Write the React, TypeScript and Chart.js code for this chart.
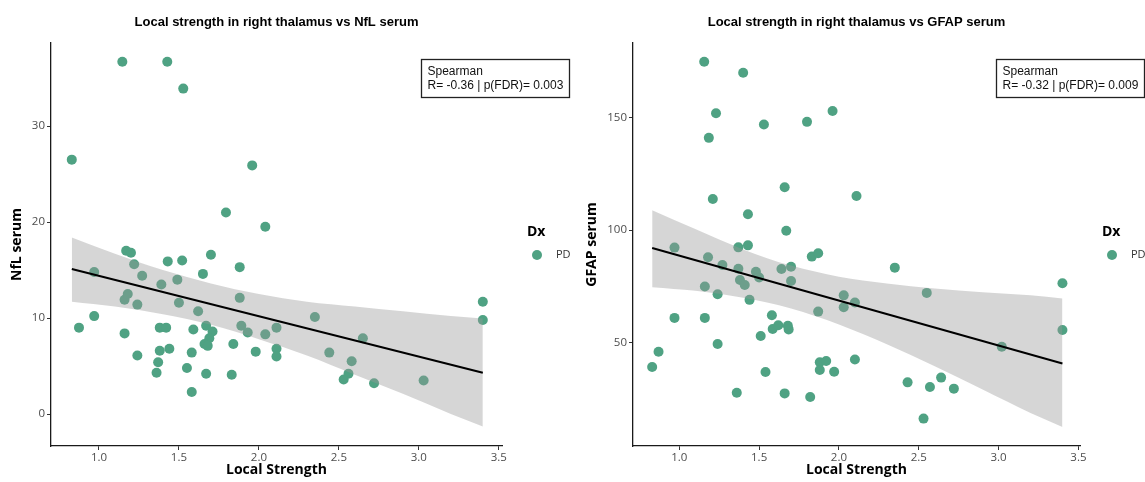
import React, { useEffect, useRef } from 'react';
import { Chart, registerables } from 'chart.js';
Chart.register(...registerables);

// ---------- Data: Local strength vs NfL serum ----------
const nflX = [1.146, 1.427, 1.527, 0.83, 1.958, 1.794, 2.04, 0.875, 0.97, 0.97, 1.16, 1.16, 1.18, 1.17, 1.2, 1.22, 1.24, 1.27, 1.24, 1.36, 1.37, 1.38, 1.38, 1.42, 1.44, 1.39, 1.43, 1.49, 1.52, 1.5, 1.55, 1.58, 1.58, 1.59, 1.62, 1.65, 1.7, 1.67, 1.71, 1.69, 1.66, 1.68, 1.67, 1.83, 1.84, 1.88, 1.88, 1.89, 1.93, 1.98, 2.04, 2.11, 2.11, 2.11, 2.35, 2.44, 2.58, 2.56, 2.53, 2.65, 2.72, 3.03, 3.4, 3.4];
const nflY = [36.7, 36.7, 33.9, 26.5, 25.9, 21.0, 19.5, 9.0, 14.8, 10.2, 8.4, 11.9, 12.5, 17.0, 16.8, 15.6, 11.4, 14.4, 6.1, 4.3, 5.4, 6.6, 9.0, 9.0, 6.8, 13.5, 15.9, 14.0, 16.0, 11.6, 4.8, 2.3, 6.4, 8.8, 10.7, 14.6, 16.6, 9.2, 8.6, 7.9, 7.3, 7.1, 4.2, 4.1, 7.3, 15.3, 12.1, 9.2, 8.5, 6.5, 8.3, 9.0, 6.8, 6.0, 10.1, 6.4, 5.5, 4.2, 3.6, 7.9, 3.2, 3.5, 11.7, 9.8];
const nflBandX = [0.83, 1.1, 1.4, 1.7, 2.0, 2.3, 2.6, 2.9, 3.2, 3.4];
const nflBandLo = [11.7, 11.2, 10.4, 9.3, 7.8, 6.1, 4.1, 2.1, 0.0, -1.3];
const nflBandHi = [18.4, 16.7, 15.0, 13.6, 12.5, 11.7, 11.2, 10.7, 10.2, 9.95];
const nflFitX = [0.83, 3.4];
const nflFitY = [15.1, 4.3];
const nflYTicks = [0, 10, 20, 30];

// ---------- Data: Local strength vs GFAP serum ----------
const gfapX = [1.156, 1.4, 1.23, 1.185, 1.53, 1.8, 1.96, 1.21, 1.66, 1.43, 2.11, 0.83, 0.87, 0.97, 0.97, 1.16, 1.18, 1.16, 1.24, 1.24, 1.27, 1.37, 1.37, 1.43, 1.38, 1.41, 1.44, 1.48, 1.5, 1.51, 1.54, 1.36, 1.58, 1.585, 1.62, 1.64, 1.67, 1.68, 1.685, 1.7, 1.7, 1.66, 1.82, 1.83, 1.87, 1.87, 1.88, 1.92, 1.88, 1.97, 2.03, 2.03, 2.1, 2.1, 2.35, 2.43, 2.55, 2.57, 2.64, 2.72, 2.53, 3.02, 3.4, 3.4];
const gfapY = [174.7, 169.8, 151.8, 140.9, 146.8, 148.0, 152.8, 113.8, 119.0, 107.0, 115.1, 39.2, 46.0, 92.2, 61.0, 74.9, 87.9, 61.0, 71.5, 49.4, 84.5, 82.8, 92.3, 93.2, 77.8, 75.6, 69.0, 81.5, 78.9, 53.0, 37.0, 27.8, 62.2, 56.1, 57.7, 82.7, 99.7, 57.5, 55.9, 83.7, 77.4, 27.5, 25.9, 88.2, 89.7, 63.8, 41.3, 41.9, 37.9, 37.1, 71.0, 65.7, 67.8, 42.5, 83.3, 32.4, 72.1, 30.3, 34.5, 29.6, 16.3, 48.2, 76.4, 55.6];
const gfapBandX = [0.83, 1.1, 1.4, 1.7, 2.0, 2.3, 2.6, 2.9, 3.2, 3.4];
const gfapBandLo = [74.6, 73.0, 69.9, 65.2, 58.1, 49.3, 39.5, 29.2, 18.8, 12.6];
const gfapBandHi = [108.8, 100.4, 91.4, 84.2, 79.3, 76.3, 74.1, 72.4, 71.0, 69.6];
const gfapFitX = [0.83, 3.4];
const gfapFitY = [92.0, 40.8];
const gfapYTicks = [50, 100, 150];

const xTicks = [1.0, 1.5, 2.0, 2.5, 3.0, 3.5];

const GREEN = '#4FA283';
const BAND = 'rgba(153,153,153,0.4)';
const SANS = '"Open Sans", "Liberation Sans", Arial, sans-serif';
const HELV = '"Liberation Sans", Arial, Helvetica, sans-serif';

type PanelSpec = {
  width: number;
  areaLeft: number;
  areaRight: number;
  xMin: number;
  xMax: number;
  yMin: number;
  yMax: number;
  xs: number[];
  ys: number[];
  bandX: number[];
  bandLo: number[];
  bandHi: number[];
  fitX: number[];
  fitY: number[];
  yTicks: number[];
  title: string;
  yTitle: string;
  stat: string;
};

const pts = (xs: number[], ys: number[]) => xs.map((x, i) => ({ x, y: ys[i] }));

function makeOverlay(spec: PanelSpec) {
  return {
    id: 'overlay',
    afterDraw(chart: any) {
      const ctx = chart.ctx as CanvasRenderingContext2D;
      const a = chart.chartArea;
      ctx.save();
      // Title
      ctx.fillStyle = '#000';
      ctx.font = `bold 13px ${HELV}`;
      ctx.textAlign = 'center';
      ctx.textBaseline = 'middle';
      ctx.fillText(spec.title, (a.left + a.right) / 2, 22);
      // Stat box
      const bx = 421.5, by = 59.5, bw = 148, bh = 38;
      ctx.fillStyle = '#fff';
      ctx.fillRect(bx, by, bw, bh);
      ctx.strokeStyle = '#222';
      ctx.lineWidth = 1.3;
      ctx.strokeRect(bx, by, bw, bh);
      ctx.fillStyle = '#111';
      ctx.font = `12px ${HELV}`;
      ctx.textAlign = 'left';
      ctx.fillText('Spearman', bx + 6, by + 12.5);
      ctx.fillText(spec.stat, bx + 6, by + 26.5);
      // Legend
      ctx.fillStyle = '#000';
      ctx.font = `bold 14px ${SANS}`;
      ctx.fillText('Dx', 527, 232);
      ctx.fillStyle = GREEN;
      ctx.beginPath();
      ctx.arc(537, 255, 5, 0, Math.PI * 2);
      ctx.fill();
      ctx.fillStyle = '#333';
      ctx.font = `11px ${SANS}`;
      ctx.fillText('PD', 556, 255);
      ctx.restore();
    },
  };
}

function makeConfig(spec: PanelSpec): any {
  return {
    type: 'scatter',
    data: {
      datasets: [
        {
          label: 'PD',
          data: pts(spec.xs, spec.ys),
          backgroundColor: GREEN,
          borderWidth: 0,
          pointRadius: 5,
          order: 3,
        },
        {
          label: 'lower',
          data: pts(spec.bandX, spec.bandLo),
          showLine: true,
          pointRadius: 0,
          borderWidth: 0,
          borderColor: 'rgba(0,0,0,0)',
          fill: false,
          cubicInterpolationMode: 'monotone',
          order: 2,
        },
        {
          label: 'upper',
          data: pts(spec.bandX, spec.bandHi),
          showLine: true,
          pointRadius: 0,
          borderWidth: 0,
          borderColor: 'rgba(0,0,0,0)',
          backgroundColor: BAND,
          fill: '-1',
          cubicInterpolationMode: 'monotone',
          order: 1,
        },
        {
          label: 'fit',
          data: pts(spec.fitX, spec.fitY),
          showLine: true,
          pointRadius: 0,
          borderColor: '#000',
          borderWidth: 2,
          fill: false,
          order: 0,
        },
      ],
    },
    options: {
      responsive: false,
      animation: false,
      events: [],
      layout: {
        padding: { left: 0, right: spec.width - spec.areaRight, top: 43, bottom: 0 },
      },
      plugins: {
        legend: { display: false },
        tooltip: { enabled: false },
        title: { display: false },
      },
      scales: {
        x: {
          type: 'linear',
          position: 'bottom',
          min: spec.xMin,
          max: spec.xMax,
          afterBuildTicks: (s: any) => {
            s.ticks = xTicks.map((v) => ({ value: v }));
          },
          afterFit: (s: any) => {
            s.height = 36;
          },
          ticks: {
            callback: (v: any) => Number(v).toFixed(1),
            color: '#4d4d4d',
            font: { size: 11.5, family: SANS },
            padding: 1,
            maxRotation: 0,
            autoSkip: false,
          },
          grid: { drawOnChartArea: false, drawTicks: true, tickLength: 4, color: '#333', lineWidth: 1 },
          border: { display: true, color: '#1a1a1a', width: 1.3 },
          title: {
            display: true,
            text: 'Local Strength',
            color: '#000',
            font: { size: 14, weight: 'bold', family: SANS },
            padding: { top: 0, bottom: 3.6 },
          },
        },
        y: {
          type: 'linear',
          position: 'left',
          min: spec.yMin,
          max: spec.yMax,
          afterBuildTicks: (s: any) => {
            s.ticks = spec.yTicks.map((v) => ({ value: v }));
          },
          afterFit: (s: any) => {
            s.width = spec.areaLeft;
          },
          ticks: {
            color: '#4d4d4d',
            font: { size: 11.5, family: SANS },
            padding: 2,
          },
          grid: { drawOnChartArea: false, drawTicks: true, tickLength: 4, color: '#333', lineWidth: 1 },
          border: { display: true, color: '#1a1a1a', width: 1.3 },
          title: {
            display: true,
            text: spec.yTitle,
            color: '#000',
            font: { size: 14, weight: 'bold', family: SANS },
            padding: { top: 8.6, bottom: 0 },
          },
        },
      },
    },
    plugins: [makeOverlay(spec)],
  };
}

function Panel({ spec }: { spec: PanelSpec }) {
  const ref = useRef<HTMLCanvasElement | null>(null);
  useEffect(() => {
    if (!ref.current) return;
    const chart = new Chart(ref.current, makeConfig(spec));
    return () => chart.destroy();
  }, [spec]);
  return <canvas ref={ref} width={spec.width} height={482} style={{ display: 'block', width: spec.width, height: 482 }} />;
}

const leftSpec: PanelSpec = {
  width: 575,
  areaLeft: 51,
  areaRight: 502,
  xMin: 0.7,
  xMax: 3.52,
  yMin: -3.33,
  yMax: 38.65,
  xs: nflX,
  ys: nflY,
  bandX: nflBandX,
  bandLo: nflBandLo,
  bandHi: nflBandHi,
  fitX: nflFitX,
  fitY: nflFitY,
  yTicks: nflYTicks,
  title: 'Local strength in right thalamus vs NfL serum',
  yTitle: 'NfL serum',
  stat: 'R= -0.36 | p(FDR)= 0.003',
};

const rightSpec: PanelSpec = {
  width: 570,
  areaLeft: 58,
  areaRight: 505,
  xMin: 0.71,
  xMax: 3.51,
  yMin: 4.15,
  yMax: 183.0,
  xs: gfapX,
  ys: gfapY,
  bandX: gfapBandX,
  bandLo: gfapBandLo,
  bandHi: gfapBandHi,
  fitX: gfapFitX,
  fitY: gfapFitY,
  yTicks: gfapYTicks,
  title: 'Local strength in right thalamus vs GFAP serum',
  yTitle: 'GFAP serum',
  stat: 'R= -0.32 | p(FDR)= 0.009',
};

export default function App() {
  return (
    <div style={{ position: 'fixed', left: 0, top: 0, width: 1145, height: 482, background: '#fff', overflow: 'hidden' }}>
      <div style={{ position: 'absolute', left: 0, top: 0 }}>
        <Panel spec={leftSpec} />
      </div>
      <div style={{ position: 'absolute', left: 575, top: 0 }}>
        <Panel spec={rightSpec} />
      </div>
    </div>
  );
}
